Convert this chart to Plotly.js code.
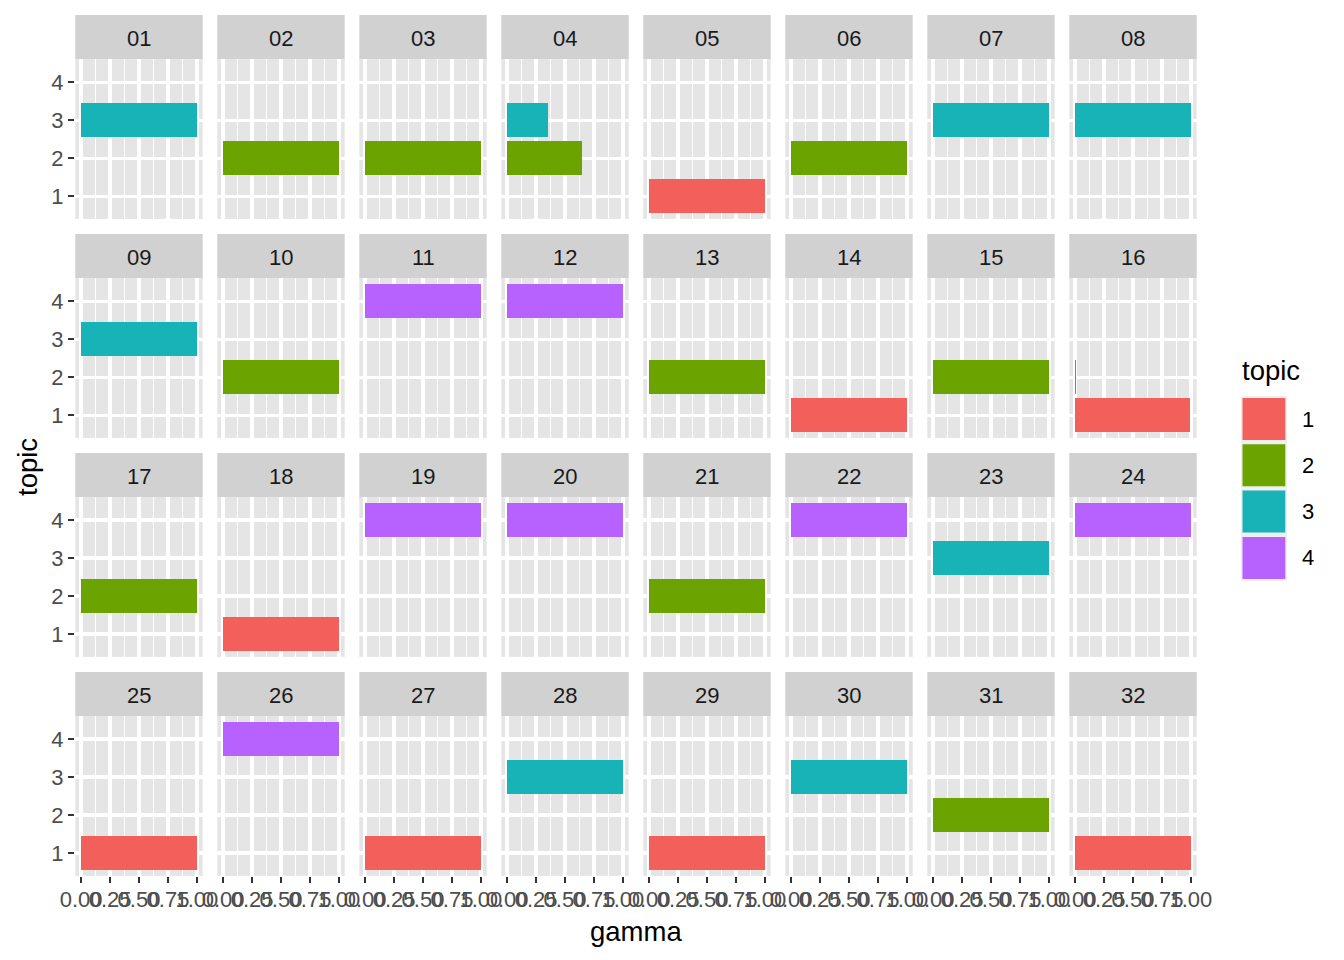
<!DOCTYPE html>
<html>
<head>
<meta charset="utf-8">
<script src="https://cdn.plot.ly/plotly-3.0.1.min.js"></script>
<style>html,body{margin:0;padding:0;background:#fff;}#chart{width:1344px;height:960px;}</style>
</head>
<body>
<div id="chart"></div>
<script>
// ---- data ----
const documents = ["01","02","03","04","05","06","07","08","09","10","11","12","13","14","15","16",
                   "17","18","19","20","21","22","23","24","25","26","27","28","29","30","31","32"];
const rowDocument = ["01","02","03","04","04","05","06","07","08","09","10","11","12","13","14","15","16","16",
                     "17","18","19","20","21","22","23","24","25","26","27","28","29","30","31","32"];
const rowTopic = [3,2,2,3,2,1,2,3,3,3,2,4,4,2,1,2,2,1,
                  2,1,4,4,2,4,3,4,1,4,1,3,1,3,2,1];
const rowGamma = [1,1,1,0.35,0.65,1,1,1,1,1,1,1,1,1,1,1,0.01,0.99,
                  1,1,1,1,1,1,1,1,1,1,1,1,1,1,1,1];
const topicLevels = [1,2,3,4];
const topicColors = ["#F35F5B","#6BA300","#18B3B7","#B762FF"];
const xTickVals = [0,0.25,0.5,0.75,1];
const xTickText = ["0.00","0.25","0.50","0.75","1.00"];

// ---- layout geometry (pixels) ----
const W = 1344, H = 960;
const panelLeft0 = 75.3, panelStepX = 142, panelW = 127.4;
const stripTop0 = 15, rowStep = 219, stripH = 44.3, plotH = 159.6;
const nCol = 8, nRow = 4;
const FONT = "Liberation Sans, Arial, Helvetica, sans-serif";
const TXT = 22, TTL = 27.5;

const layout = {
  width: W, height: H,
  margin: {l:0, r:0, t:0, b:0, pad:0},
  paper_bgcolor: "#FFFFFF",
  plot_bgcolor: "#E5E5E5",
  showlegend: false,
  bargap: 0,
  font: {family: FONT, size: TXT, color: "#4D4D4D"},
  shapes: [],
  annotations: []
};

documents.forEach((doc, k) => {
  const col = k % nCol, row = Math.floor(k / nCol);
  const x0 = panelLeft0 + col * panelStepX, x1 = x0 + panelW;
  const sTop = stripTop0 + row * rowStep;
  const pTop = sTop + stripH, pBot = pTop + plotH;
  const xn = k === 0 ? "xaxis" : "xaxis" + (k + 1);
  const yn = k === 0 ? "yaxis" : "yaxis" + (k + 1);
  const xr = k === 0 ? "x" : "x" + (k + 1);
  const yr = k === 0 ? "y" : "y" + (k + 1);
  const bottom = row === nRow - 1, left = col === 0;
  layout[xn] = {
    domain: [x0 / W, x1 / W], anchor: yr,
    range: [-0.05, 1.05], tickmode: "array", tickvals: xTickVals, ticktext: xTickText,
    showticklabels: bottom, ticks: bottom ? "outside" : "", ticklen: 6.5, tickwidth: 1.7, tickcolor: "#333333",
    ticklabelstandoff: -3,
    tickangle: 0, tickfont: {family: FONT, size: TXT, color: "#4D4D4D"},
    showgrid: true, gridcolor: "#FFFFFF", gridwidth: 3.2,
    minor: {tickvals: [0.125, 0.375, 0.625, 0.875], showgrid: true, gridcolor: "#FFFFFF", gridwidth: 1.6, ticks: ""},
    zeroline: false, showline: false, fixedrange: true
  };
  layout[yn] = {
    domain: [1 - pBot / H, 1 - pTop / H], anchor: xr,
    range: [0.4, 4.6], tickmode: "array", tickvals: topicLevels, ticktext: topicLevels.map(String),
    showticklabels: left, ticks: left ? "outside" : "", ticklen: 6.5, tickwidth: 1.7, tickcolor: "#333333",
    tickfont: {family: FONT, size: TXT, color: "#4D4D4D"},
    showgrid: true, gridcolor: "#FFFFFF", gridwidth: 3.2,
    zeroline: false, showline: false, fixedrange: true
  };
  layout.shapes.push({type: "rect", xref: "paper", yref: "paper",
    x0: x0 / W, x1: x1 / W, y0: 1 - (sTop + stripH) / H, y1: 1 - sTop / H,
    fillcolor: "#D1D1D1", line: {width: 0}, layer: "below"});
  layout.annotations.push({xref: "paper", yref: "paper", x: (x0 + x1) / 2 / W, y: 1 - (sTop + stripH / 2 + 1) / H,
    text: doc, showarrow: false, xanchor: "center", yanchor: "middle",
    font: {family: FONT, size: TXT, color: "#1A1A1A"}});
});

// ---- bars ----
const traces = [];
rowDocument.forEach((doc, i) => {
  const k = documents.indexOf(doc);
  const t = rowTopic[i];
  traces.push({
    type: "bar", orientation: "h",
    x: [rowGamma[i]], y: [t], width: 0.9, base: 0,
    xaxis: k === 0 ? "x" : "x" + (k + 1), yaxis: k === 0 ? "y" : "y" + (k + 1),
    marker: {color: topicColors[topicLevels.indexOf(t)], line: {width: 0}},
    hoverinfo: "skip", showlegend: false
  });
});

// ---- axis titles ----
layout.annotations.push({xref: "paper", yref: "paper", x: 636 / W, y: 1 - 931 / H, text: "gamma",
  showarrow: false, xanchor: "center", yanchor: "middle", font: {family: FONT, size: TTL, color: "#000000"}});
layout.annotations.push({xref: "paper", yref: "paper", x: 27 / W, y: 1 - 467 / H, text: "topic", textangle: -90,
  showarrow: false, xanchor: "center", yanchor: "middle", font: {family: FONT, size: TTL, color: "#000000"}});

// ---- legend (drawn manually, ggplot style) ----
layout.annotations.push({xref: "paper", yref: "paper", x: 1240 / W, y: 1 - 370 / H, text: "topic",
  showarrow: false, xanchor: "left", yanchor: "middle", font: {family: FONT, size: TTL, color: "#000000"}});
topicLevels.forEach((t, i) => {
  const top = 396 + 46.3 * i;
  layout.shapes.push({type: "rect", xref: "paper", yref: "paper",
    x0: 1241 / W, x1: 1287 / W, y0: 1 - (top + 46.3) / H, y1: 1 - top / H,
    fillcolor: "#EFEFEF", line: {width: 0}});
  layout.shapes.push({type: "rect", xref: "paper", yref: "paper",
    x0: 1242.5 / W, x1: 1285.3 / W, y0: 1 - (top + 44) / H, y1: 1 - (top + 2) / H,
    fillcolor: topicColors[i], line: {width: 0}});
  layout.annotations.push({xref: "paper", yref: "paper", x: 1300 / W, y: 1 - (top + 23) / H, text: String(t),
    showarrow: false, xanchor: "left", yanchor: "middle", font: {family: FONT, size: TXT, color: "#000000"}});
});

Plotly.newPlot("chart", traces, layout, {staticPlot: true, displayModeBar: false});
</script>
</body>
</html>
